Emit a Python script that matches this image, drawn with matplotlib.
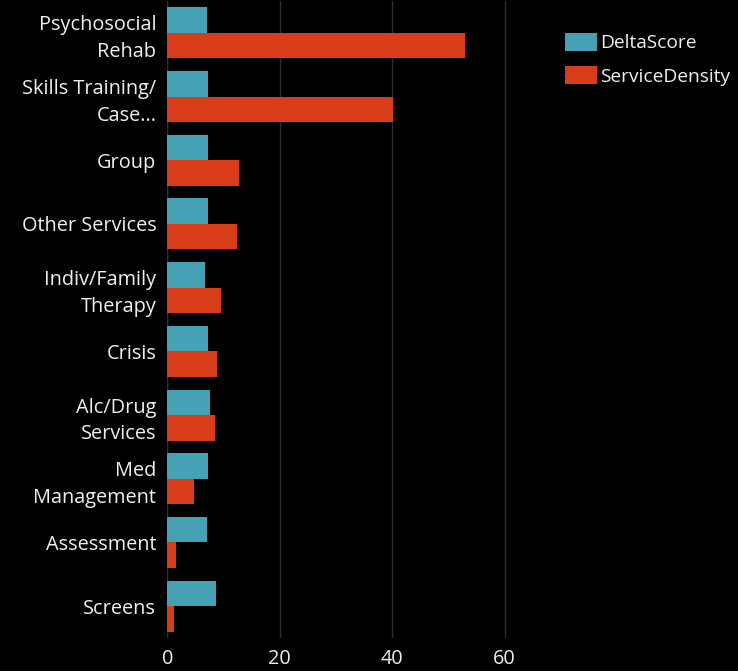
import matplotlib
matplotlib.use("Agg")
import matplotlib.pyplot as plt
import numpy as np

categories = ["Psychosocial\nRehab", "Skills Training/\nCase...", "Group", "Other Services",
              "Indiv/Family\nTherapy", "Crisis", "Alc/Drug\nServices", "Med\nManagement",
              "Assessment", "Screens"]
delta_score = [7.0, 7.2, 7.2, 7.2, 6.7, 7.2, 7.5, 7.2, 7.0, 8.7]
service_density = [53.0, 40.1, 12.7, 12.4, 9.55, 8.9, 8.4, 4.65, 1.6, 1.2]
x_ticks = [0, 20, 40, 60]
series_names = ["DeltaScore", "ServiceDensity"]

teal = "#43A1B3"
red = "#D93C19"
text_col = "#F0F0F0"
fs = 14.3

plt.rcParams["font.family"] = ["Open Sans", "DejaVu Sans"]

fig = plt.figure(figsize=(7.38, 6.71), dpi=100, facecolor="black")
ax = fig.add_axes([167.4 / 738, 33 / 671, (538.3 - 167.4) / 738, 637 / 671])
ax.set_facecolor("black")

y = np.arange(len(categories))
h = 0.4
ax.barh(y - h / 2, delta_score, height=h, color=teal, label=series_names[0], zorder=3)
ax.barh(y + h / 2, service_density, height=h, color=red, label=series_names[1], zorder=3)

ax.set_ylim(len(categories) - 0.5, -0.5)
ax.set_xlim(0, 66)
ax.set_xticks(x_ticks)
ax.set_xticklabels([str(t) for t in x_ticks])
ax.set_yticks(y)
ax.set_yticklabels(categories, ha="right", multialignment="right", linespacing=1.45)

ax.grid(axis="x", color="#2E2E2E", linewidth=1, zorder=0)
ax.axvline(0, color="#2E2E2E", linewidth=1, zorder=1)
for s in ax.spines.values():
    s.set_visible(False)
ax.tick_params(axis="both", length=0, colors=text_col, labelsize=fs)
ax.tick_params(axis="y", pad=8)
ax.tick_params(axis="x", pad=8)

fig.legend(loc="upper left", bbox_to_anchor=(565 / 738, 1 - 33 / 671), frameon=False,
           fontsize=13.8, labelcolor=text_col, handlelength=1.65, handleheight=1.05,
           handletextpad=0.2, labelspacing=0.72, borderaxespad=0, borderpad=0)

fig.savefig("out.png", dpi=100, facecolor="black")
